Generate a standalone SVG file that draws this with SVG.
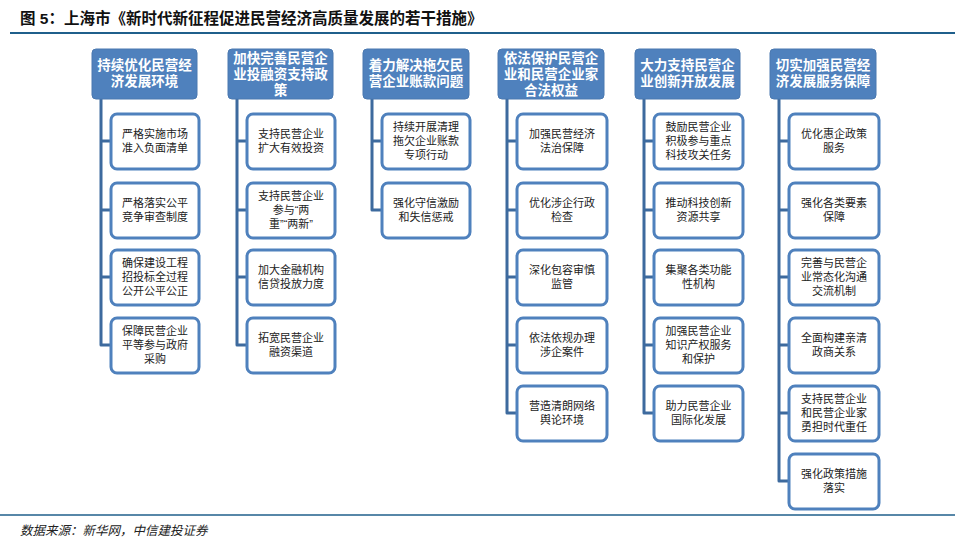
<svg xmlns="http://www.w3.org/2000/svg" width="960" height="542" viewBox="0 0 960 542">
<style>
text{font-family:"Liberation Sans","Noto Sans CJK SC",sans-serif;text-anchor:middle}
.h rect{fill:#4f81bd;stroke:#4a78b0;stroke-width:1}
.h text{fill:#fff;font-size:13.5px;font-weight:bold}
.c rect{fill:#fff;stroke:#4f81bd;stroke-width:3}
.c text{fill:#222;font-size:11px}
.ln{fill:none;stroke:#3d6a9e;stroke-width:3;stroke-linejoin:round}
</style>
<rect width="960" height="542" fill="#fff"/>
<text x="20" y="24" style="text-anchor:start;font-size:15.5px;font-weight:bold" fill="#111">图 5：上海市《新时代新征程促进民营经济高质量发展的若干措施》</text>
<line x1="10" y1="33" x2="955" y2="33" stroke="#1f5f8b" stroke-width="2"/>
<line x1="0" y1="515" x2="955" y2="515" stroke="#1f5f8b" stroke-width="1.5"/>
<text x="20" y="535" style="text-anchor:start;font-size:12.5px;font-style:italic" fill="#222">数据来源：新华网，中信建投证券</text>
<g id="connectors">
<path class="ln" d="M101 99V345H111M101 141H111M101 210H111M101 277H111"/>
<path class="ln" d="M237 99V345H247M237 141H247M237 210H247M237 277H247"/>
<path class="ln" d="M372 99V210H382M372 141H382"/>
<path class="ln" d="M507 99V413H517M507 141H517M507 210H517M507 277H517M507 345H517"/>
<path class="ln" d="M644 99V413H654M644 141H654M644 210H654M644 277H654M644 345H654"/>
<path class="ln" d="M779 99V481H789M779 141H789M779 210H789M779 277H789M779 345H789M779 413H789"/>
</g>
<g id="h1" class="h"><rect x="92" y="49" width="105" height="50" rx="4"/><text x="144.5" y="70">持续优化民营经</text><text x="144.5" y="86">济发展环境</text></g>
<g id="h2" class="h"><rect x="228" y="49" width="105" height="50" rx="4"/><text x="280.5" y="63">加快完善民营企</text><text x="280.5" y="79">业投融资支持政</text><text x="280.5" y="95">策</text></g>
<g id="h3" class="h"><rect x="363" y="49" width="106" height="50" rx="4"/><text x="416" y="70">着力解决拖欠民</text><text x="416" y="86">营企业账款问题</text></g>
<g id="h4" class="h"><rect x="498" y="49" width="106" height="50" rx="4"/><text x="551" y="63">依法保护民营企</text><text x="551" y="79">业和民营企业家</text><text x="551" y="95">合法权益</text></g>
<g id="h5" class="h"><rect x="635" y="49" width="105" height="50" rx="4"/><text x="687.5" y="70">大力支持民营企</text><text x="687.5" y="86">业创新开放发展</text></g>
<g id="h6" class="h"><rect x="770" y="49" width="106" height="50" rx="4"/><text x="823" y="70">切实加强民营经</text><text x="823" y="86">济发展服务保障</text></g>

<g id="c1a" class="c"><rect x="111" y="114" width="88" height="55" rx="6"/><text x="155" y="138">严格实施市场</text><text x="155" y="152">准入负面清单</text></g>
<g id="c1b" class="c"><rect x="111" y="183" width="88" height="55" rx="6"/><text x="155" y="207">严格落实公平</text><text x="155" y="221">竞争审查制度</text></g>
<g id="c1c" class="c"><rect x="111" y="250" width="88" height="55" rx="6"/><text x="155" y="267">确保建设工程</text><text x="155" y="281">招投标全过程</text><text x="155" y="295">公开公平公正</text></g>
<g id="c1d" class="c"><rect x="111" y="318" width="88" height="55" rx="6"/><text x="155" y="335">保障民营企业</text><text x="155" y="349">平等参与政府</text><text x="155" y="363">采购</text></g>

<g id="c2a" class="c"><rect x="247" y="114" width="88" height="55" rx="6"/><text x="291" y="138">支持民营企业</text><text x="291" y="152">扩大有效投资</text></g>
<g id="c2b" class="c"><rect x="247" y="183" width="88" height="55" rx="6"/><text x="291" y="200">支持民营企业</text><text x="291" y="214">参与“两</text><text x="291" y="228">重”“两新”</text></g>
<g id="c2c" class="c"><rect x="247" y="250" width="88" height="55" rx="6"/><text x="291" y="274">加大金融机构</text><text x="291" y="288">信贷投放力度</text></g>
<g id="c2d" class="c"><rect x="247" y="318" width="88" height="55" rx="6"/><text x="291" y="342">拓宽民营企业</text><text x="291" y="356">融资渠道</text></g>

<g id="c3a" class="c"><rect x="382" y="114" width="88" height="55" rx="6"/><text x="426" y="131">持续开展清理</text><text x="426" y="145">拖欠企业账款</text><text x="426" y="159">专项行动</text></g>
<g id="c3b" class="c"><rect x="382" y="183" width="88" height="55" rx="6"/><text x="426" y="207">强化守信激励</text><text x="426" y="221">和失信惩戒</text></g>

<g id="c4a" class="c"><rect x="517" y="114" width="90" height="55" rx="6"/><text x="562" y="138">加强民营经济</text><text x="562" y="152">法治保障</text></g>
<g id="c4b" class="c"><rect x="517" y="183" width="90" height="55" rx="6"/><text x="562" y="207">优化涉企行政</text><text x="562" y="221">检查</text></g>
<g id="c4c" class="c"><rect x="517" y="250" width="90" height="55" rx="6"/><text x="562" y="274">深化包容审慎</text><text x="562" y="288">监管</text></g>
<g id="c4d" class="c"><rect x="517" y="318" width="90" height="55" rx="6"/><text x="562" y="342">依法依规办理</text><text x="562" y="356">涉企案件</text></g>
<g id="c4e" class="c"><rect x="517" y="386" width="90" height="55" rx="6"/><text x="562" y="410">营造清朗网络</text><text x="562" y="424">舆论环境</text></g>

<g id="c5a" class="c"><rect x="654" y="114" width="89" height="55" rx="6"/><text x="698.5" y="131">鼓励民营企业</text><text x="698.5" y="145">积极参与重点</text><text x="698.5" y="159">科技攻关任务</text></g>
<g id="c5b" class="c"><rect x="654" y="183" width="89" height="55" rx="6"/><text x="698.5" y="207">推动科技创新</text><text x="698.5" y="221">资源共享</text></g>
<g id="c5c" class="c"><rect x="654" y="250" width="89" height="55" rx="6"/><text x="698.5" y="274">集聚各类功能</text><text x="698.5" y="288">性机构</text></g>
<g id="c5d" class="c"><rect x="654" y="318" width="89" height="55" rx="6"/><text x="698.5" y="335">加强民营企业</text><text x="698.5" y="349">知识产权服务</text><text x="698.5" y="363">和保护</text></g>
<g id="c5e" class="c"><rect x="654" y="386" width="89" height="55" rx="6"/><text x="698.5" y="410">助力民营企业</text><text x="698.5" y="424">国际化发展</text></g>

<g id="c6a" class="c"><rect x="789" y="114" width="90" height="55" rx="6"/><text x="834" y="138">优化惠企政策</text><text x="834" y="152">服务</text></g>
<g id="c6b" class="c"><rect x="789" y="183" width="90" height="55" rx="6"/><text x="834" y="207">强化各类要素</text><text x="834" y="221">保障</text></g>
<g id="c6c" class="c"><rect x="789" y="250" width="90" height="55" rx="6"/><text x="834" y="267">完善与民营企</text><text x="834" y="281">业常态化沟通</text><text x="834" y="295">交流机制</text></g>
<g id="c6d" class="c"><rect x="789" y="318" width="90" height="55" rx="6"/><text x="834" y="342">全面构建亲清</text><text x="834" y="356">政商关系</text></g>
<g id="c6e" class="c"><rect x="789" y="386" width="90" height="55" rx="6"/><text x="834" y="403">支持民营企业</text><text x="834" y="417">和民营企业家</text><text x="834" y="431">勇担时代重任</text></g>
<g id="c6f" class="c"><rect x="789" y="454" width="90" height="55" rx="6"/><text x="834" y="478">强化政策措施</text><text x="834" y="492">落实</text></g>
</svg>
